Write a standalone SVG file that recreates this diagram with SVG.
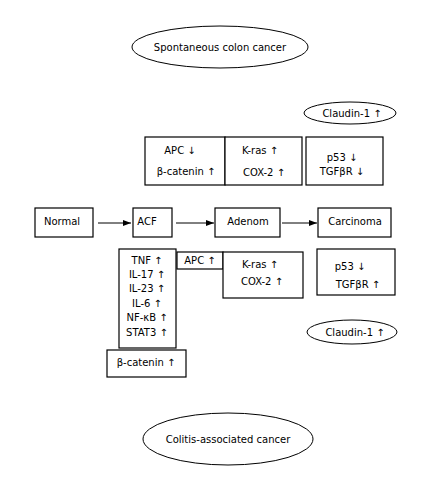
<svg xmlns="http://www.w3.org/2000/svg" width="430" height="485" viewBox="0 0 430 485">
<style>
.b{fill:#fff;stroke:#000;stroke-width:1.2}
.e{fill:#fff;stroke:#000;stroke-width:1}
text{font-family:"DejaVu Sans",Verdana,sans-serif;font-size:10px;fill:#000;text-anchor:middle}
.c{stroke:#000;stroke-width:1;fill:none}
</style>
<defs>
<marker id="ah" markerWidth="8" markerHeight="6" refX="8" refY="3" orient="auto" markerUnits="userSpaceOnUse">
<path d="M0,0 L8,3 L0,6 Z" fill="#000"/>
</marker>
</defs>
<rect width="430" height="485" fill="#fff"/>
<g id="spontaneous">
<ellipse class="e" cx="220" cy="47" rx="88" ry="21"/>
<text x="220" y="51">Spontaneous colon cancer</text>
</g>
<g id="claudin-top">
<ellipse class="e" cx="350" cy="113" rx="46" ry="11"/>
<text x="352" y="117">Claudin-1 ↑</text>
</g>
<g id="apc-top">
<rect class="b" x="145" y="137" width="80" height="48"/>
<text x="180" y="154">APC ↓</text>
<text x="186" y="175">β-catenin ↑</text>
</g>
<g id="kras-top">
<rect class="b" x="225" y="137" width="77" height="48"/>
<text x="260" y="154">K-ras ↑</text>
<text x="264" y="176">COX-2 ↑</text>
</g>
<g id="p53-top">
<rect class="b" x="306" y="137" width="77" height="48"/>
<text x="342" y="161">p53 ↓</text>
<text x="342" y="175">TGFβR ↓</text>
</g>
<g id="normal">
<rect class="b" x="35" y="208" width="58" height="29"/>
<text x="62" y="225">Normal</text>
</g>
<g id="acf">
<rect class="b" x="133" y="208" width="39" height="29"/>
<text x="147" y="225">ACF</text>
</g>
<g id="adenom">
<rect class="b" x="215" y="208" width="65" height="29"/>
<text x="248" y="225">Adenom</text>
</g>
<g id="carcinoma">
<rect class="b" x="318" y="208" width="73" height="29"/>
<text x="355" y="225">Carcinoma</text>
</g>
<g id="connectors">
<line class="c" x1="98" y1="223" x2="131" y2="223" marker-end="url(#ah)"/>
<line class="c" x1="176" y1="223" x2="214" y2="223" marker-end="url(#ah)"/>
<line class="c" x1="282" y1="223" x2="317" y2="223" marker-end="url(#ah)"/>
</g>
<g id="cytokines">
<rect class="b" x="119" y="249" width="57" height="99"/>
<text x="147" y="264">TNF ↑</text>
<text x="147" y="278">IL-17 ↑</text>
<text x="147" y="292">IL-23 ↑</text>
<text x="147" y="307">IL-6 ↑</text>
<text x="147" y="321">NF-κB ↑</text>
<text x="147" y="336">STAT3 ↑</text>
</g>
<g id="apc-bottom">
<rect class="b" x="177" y="252" width="46" height="17"/>
<text x="200" y="264">APC ↑</text>
</g>
<g id="kras-bottom">
<rect class="b" x="223" y="252" width="80" height="46"/>
<text x="260" y="268">K-ras ↑</text>
<text x="262" y="285">COX-2 ↑</text>
</g>
<g id="p53-bottom">
<rect class="b" x="317" y="249" width="78" height="46"/>
<text x="350" y="270">p53 ↓</text>
<text x="358" y="288">TGFβR ↑</text>
</g>
<g id="claudin-bottom">
<ellipse class="e" cx="352" cy="332" rx="45" ry="12"/>
<text x="355" y="336">Claudin-1 ↑</text>
</g>
<g id="beta-catenin-bottom">
<rect class="b" x="107" y="350" width="79" height="27"/>
<text x="146" y="366">β-catenin ↑</text>
</g>
<g id="colitis">
<ellipse class="e" cx="228" cy="439" rx="85" ry="26"/>
<text x="228" y="443">Colitis-associated cancer</text>
</g>
</svg>
